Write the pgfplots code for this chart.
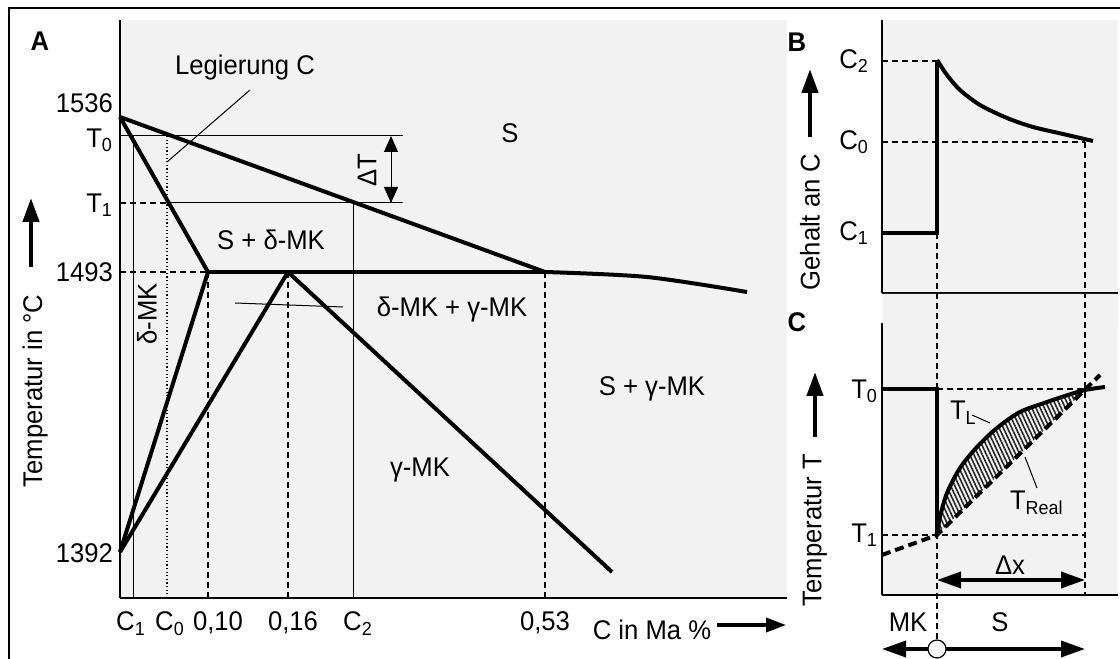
\documentclass[border=0pt]{standalone}
\usepackage{fontspec}
\setmainfont{Liberation Sans}[FakeStretch=0.95]
\usepackage{pgfplots}
\pgfplotsset{compat=1.18}
\usetikzlibrary{arrows.meta,patterns.meta}
\definecolor{bgc}{HTML}{F2F2F2}
\newcommand\lab{\fontsize{13.5}{16}\selectfont}
\newcommand\sub[1]{\textsubscript{#1}}
\pgfplotsset{
  panel/.style={x=0.5pt,y=0.5pt,clip=false,
    axis x line=bottom, axis y line=left,
    axis line style={-,line width=0.9pt},
    major tick length=0pt, minor tick num=0,
    axis background/.style={fill=bgc},
    tick label style={font=\lab},
    label style={font=\lab},
    every axis plot/.append style={black}},
  thk/.style={line width=2pt},
  thn/.style={line width=0.5pt},
  dsh/.style={line width=0.7pt,dash pattern=on 3pt off 2pt},
  bigarrow/.style={line width=2.2pt,-{Triangle[length=12pt,width=8pt]}},
  bigdarrow/.style={line width=1.8pt,{Triangle[length=12pt,width=8pt]}-{Triangle[length=12pt,width=8pt]}},
}
\begin{document}
\begin{tikzpicture}[font=\lab]
\path[use as bounding box] (0,0) rectangle (560pt,329.5pt);
\draw[line width=0.9pt] (4.5pt,0pt) -- (4.5pt,325.5pt) -- (560pt,325.5pt);

% ---------------- Panel A ----------------
\begin{axis}[panel, at={(60pt,30.5pt)}, anchor=south west,
  xmin=120, xmax=787, ymin=61, ymax=639,
  xtick={131,170,218,293,358,545},
  xticklabels={C\sub{1},C\sub{0},{0,10},{0,16},C\sub{2},{0,53}},
  xticklabel style={yshift=-3.5pt},
  ytick={106,387,454,519,556},
  yticklabels={1392,1493,T\sub{1},T\sub{0},1536},
  ylabel={Temperatur in °C},
  ylabel style={at={(axis description cs:-0.1274,0.3581)},anchor=center},
  xlabel={C in Ma \%},
  xlabel style={at={(axis description cs:0.7976,-0.0554)},anchor=center},
]
% thin construction lines
\addplot[thn] coordinates {(120,523) (403,523)};
\addplot[dsh] coordinates {(120,456) (167,456)};
\addplot[thn] coordinates {(167,456) (403,456)};
\addplot[thn] coordinates {(133,523) (133,61)};
\addplot[line width=0.6pt,dash pattern=on 0.6pt off 1.2pt] coordinates {(167,523) (167,61)};
\addplot[thn] coordinates {(353,456) (353,61)};
\addplot[dsh] coordinates {(120,387) (208,387)};
\addplot[dsh] coordinates {(208,387) (208,61)};
\addplot[dsh] coordinates {(288,387) (288,61)};
\addplot[dsh] coordinates {(545,387) (545,61)};
% leaders
\addplot[thn] coordinates {(250,569) (167,497)};
\addplot[thn] coordinates {(235,356) (343,352)};
% Delta T arrow
\addplot[thn,{Triangle[length=8pt,width=7pt]}-{Triangle[length=8pt,width=7pt]}] coordinates {(391,523) (391,456)};
% phase boundaries
\addplot[thk] coordinates {(120,542) (545,387)};
\addplot[thk] coordinates {(120,542) (208,387)};
\addplot[thk] coordinates {(208,387) (545,387)};
\addplot[thk,smooth] coordinates {(545,387) (647,382) (747,367)};
\addplot[thk] coordinates {(208,387) (120,107)};
\addplot[thk] coordinates {(120,107) (288,387)};
\addplot[thk] coordinates {(288,387) (612,87)};
% axis arrows
\addplot[bigarrow] coordinates {(31,392) (31,461)};
\addplot[line width=1.8pt,-{Triangle[length=10pt,width=7pt]}] coordinates {(717,34) (786,34)};
% texts
\node[font=\lab\bfseries] at (axis cs:40,618) {A};
\node at (axis cs:245,591) {Legierung C};
\node at (axis cs:510,526) {S};
\node at (axis cs:271,419) {S + δ-MK};
\node[rotate=90] at (axis cs:367,489) {ΔT};
\node[rotate=90] at (axis cs:147,345) {δ-MK};
\node at (axis cs:452,349) {δ-MK + γ-MK};
\node at (axis cs:652,270) {S + γ-MK};
\node at (axis cs:420,189) {γ-MK};
\end{axis}

% ---------------- Panel B ----------------
\begin{axis}[panel, at={(441pt,183pt)}, anchor=south west,
  xmin=882, xmax=1118, ymin=366, ymax=639,
  xtick=\empty,
  ytick={426,517,598},
  yticklabels={C\sub{1},C\sub{0},C\sub{2}},
  yticklabel style={xshift=-3pt},
  ylabel={Gehalt an C},
  ylabel style={at={(axis description cs:-0.305,0.26)},anchor=center},
]
\addplot[dsh] coordinates {(882,598) (937,598)};
\addplot[dsh] coordinates {(882,517) (1085,517)};
\addplot[thk] coordinates {(882,426) (937,426) (937,598)};
\addplot[thk,smooth] coordinates {(937,599) (947,584) (960,569) (980,554) (1007,541) (1033,532) (1063,525) (1093,518)};
\addplot[bigarrow] coordinates {(810,522) (810,590)};
\node[font=\lab\bfseries] at (axis cs:797,617) {B};
\end{axis}

% ---------------- Panel C ----------------
\begin{axis}[panel, at={(441pt,32pt)}, anchor=south west,
  xmin=882, xmax=1118, ymin=64, ymax=336,
  xtick=\empty,
  ytick={124,268},
  yticklabels={T\sub{1},T\sub{0}},
  yticklabel style={xshift=1.5pt},
  ylabel={Temperatur T},
  ylabel style={at={(axis description cs:-0.284,0.239)},anchor=center},
]
% gray gap between B and C
\addplot[fill=bgc,draw=none] coordinates {(882,336) (1118,336) (1118,365) (882,365) (882,336)};
% hatched supercooled zone
\addplot[pattern={Lines[angle=-65,distance=1.9pt,line width=0.8pt]},pattern color=black!85,draw=none]
  coordinates {(937,124) (938,133) (940,142) (943,154) (947,166) (953,179) (960,191) (968,202) (977,212) (987,222) (997,231) (1008,239) (1020,247) (1033,252) (1047,257) (1058,261) (1068,264) (1077,267) (1085,269) (937,124)};
\addplot[thk,smooth] coordinates {(937,124) (940,142) (947,166) (960,191) (977,212) (997,231) (1020,247) (1047,257) (1068,264) (1085,269) (1105,272)};
\addplot[line width=2pt,dash pattern=on 4.5pt off 2.5pt] coordinates {(882,104) (937,124) (1100,284)};
\addplot[dsh] coordinates {(937,270) (1085,270)};
\addplot[dsh] coordinates {(882,124) (1085,124)};
\addplot[dsh] coordinates {(937,426) (937,19)};
\addplot[dsh] coordinates {(1085,517) (1085,64)};
\addplot[thk] coordinates {(882,270) (937,270) (937,124)};
% leaders
\addplot[thn] coordinates {(972,244) (990,236)};
\addplot[thn] coordinates {(1025,202) (1037,171)};
% arrows
\addplot[bigdarrow] coordinates {(937,79) (1085,79)};
\addplot[bigdarrow] coordinates {(882,10) (1085,10)};
\addplot[only marks,mark=*,mark size=4.5pt,mark options={fill=white,draw=black,line width=0.6pt}] coordinates {(937,10)};
\addplot[bigarrow] coordinates {(815,222) (815,287)};
% texts
\node[font=\lab\bfseries] at (axis cs:797,337) {C};
\node[anchor=base west] at (axis cs:943,239) {T\sub{L}};
\node[anchor=base west] at (axis cs:1003,149) {T\sub{Real}};
\node at (axis cs:1010,94) {Δx};
\node at (axis cs:908,37) {MK};
\node at (axis cs:1000,37) {S};
\end{axis}
\end{tikzpicture}
\end{document}
